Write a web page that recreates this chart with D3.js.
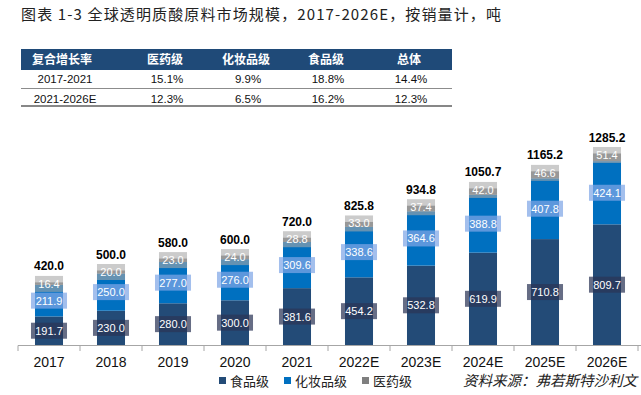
<!DOCTYPE html>
<html><head><meta charset="utf-8">
<script src="https://cdn.jsdelivr.net/npm/d3@7"></script>
<style>
html,body{margin:0;padding:0;background:#fff;}
svg{display:block;}
</style></head>
<body><svg id="c" width="641" height="395"></svg>
<script>
const title = "图表 1-3 全球透明质酸原料市场规模，2017-2026E，按销量计，吨";
const years = ["2017","2018","2019","2020","2021","2022E","2023E","2024E","2025E","2026E"];
const food = [191.7,230.0,280.0,300.0,381.6,454.2,532.8,619.9,710.8,809.7];
const cosmetic = [211.9,250.0,277.0,276.0,309.6,338.6,364.6,388.8,407.8,424.1];
const pharma = [16.4,20.0,23.0,24.0,28.8,33.0,37.4,42.0,46.6,51.4];
const totals = [420.0,500.0,580.0,600.0,720.0,825.8,934.8,1050.7,1165.2,1285.2];
const seriesNames = ["食品级","化妆品级","医药级"];
const tableHeader = ["复合增长率","医药级","化妆品级","食品级","总体"];
const tableRow1 = ["2017-2021","15.1%","9.9%","18.8%","14.4%"];
const tableRow2 = ["2021-2026E","12.3%","6.5%","16.2%","12.3%"];
const source = "资料来源：弗若斯特沙利文";

const colors = {food:"#234B77", cosmetic:"#0070C0", pharma:"#7F7F7F"};
const svg = d3.select("#c");
const LAT = "'Liberation Sans', Arial, sans-serif";
const CJK = "'Noto Sans CJK SC', sans-serif";

// title
svg.append("text").attr("x",21).attr("y",20).attr("font-family",CJK).attr("font-size",15)
  .attr("fill","#222").attr("textLength",480).attr("lengthAdjust","spacing").text(title);

// table
const colX = [62,165,246,326,409];
svg.append("rect").attr("x",21).attr("y",49).attr("width",431).attr("height",21).attr("fill","#1F4A78");
svg.selectAll("text.th").data(tableHeader).join("text").attr("class","th")
  .attr("x",(d,i)=>colX[i]).attr("y",64).attr("text-anchor","middle")
  .attr("font-family",CJK).attr("font-weight","bold").attr("font-size",12).attr("fill","#fff").text(d=>d);
[[tableRow1,83],[tableRow2,102.5]].forEach(([row,yy])=>{
  svg.append("g").selectAll("text").data(row).join("text")
    .attr("x",(d,i)=>colX[i]+ (i===0?3:2)).attr("y",yy).attr("text-anchor","middle")
    .attr("font-family",LAT).attr("font-size",11.5).attr("fill","#111").text(d=>d);
});
svg.append("line").attr("x1",21).attr("x2",452).attr("y1",88.5).attr("y2",88.5).attr("stroke","#8c8c8c").attr("stroke-width",1);
svg.append("line").attr("x1",21).attr("x2",452).attr("y1",106).attr("y2",106).attr("stroke","#111").attr("stroke-width",1.2);

// scales
const x = d3.scaleBand().domain(years).range([18,638]).paddingInner(0.548).paddingOuter(0.274);
const y = d3.scaleLinear().domain([0,1300]).range([345, 345-1300*0.149]);
const bw = x.bandwidth(), step = x.step();

const data = years.map((yr,i)=>({yr, food:food[i], cosmetic:cosmetic[i], pharma:pharma[i], total:totals[i]}));
const stack = d3.stack().keys(["food","cosmetic","pharma"])(data);

const g = svg.append("g");
stack.forEach(layer=>{
  g.append("g").selectAll("rect").data(layer).join("rect")
    .attr("x",d=>x(d.data.yr)).attr("width",bw)
    .attr("y",d=>y(d[1])).attr("height",d=>y(d[0])-y(d[1]))
    .attr("fill",colors[layer.key]);
});

// label boxes + labels
const boxH = 16;
function labelLayer(key, cyFn, boxW, fill, op){
  const lg = svg.append("g");
  lg.selectAll("rect").data(data).join("rect")
    .attr("x",d=>x(d.yr)+bw/2-boxW/2).attr("width",boxW)
    .attr("y",d=>cyFn(d)-boxH/2).attr("height",boxH)
    .attr("fill",fill).attr("fill-opacity",op);
  lg.selectAll("text").data(data).join("text")
    .attr("x",d=>x(d.yr)+bw/2).attr("y",d=>cyFn(d)+4)
    .attr("text-anchor","middle").attr("font-family",LAT).attr("font-size",11)
    .attr("fill","#fff").text(d=>d[key].toFixed(1));
}
labelLayer("food", d=>(y(0)+y(d.food))/2, bw+8, "#2B3556", 0.72);
labelLayer("cosmetic", d=>(y(d.food)+y(d.food+d.cosmetic))/2, bw+8, "#7FA6E6", 0.72);
labelLayer("pharma", d=>y(d.food+d.cosmetic+d.pharma)+1.5, bw, "#A8A8A8", 0.6);

// totals
svg.append("g").selectAll("text").data(data).join("text")
  .attr("x",d=>x(d.yr)+bw/2).attr("y",d=>y(d.total)-12)
  .attr("text-anchor","middle").attr("font-family",LAT).attr("font-weight","bold")
  .attr("font-size",12).attr("fill","#000").text(d=>d.total.toFixed(1));

// axis
const ax = svg.append("g");
ax.append("line").attr("x1",18).attr("x2",641).attr("y1",345.5).attr("y2",345.5).attr("stroke","#A6A6A6");
const bounds = years.map(yr=>x(yr)+bw/2-step/2).concat([x(years[years.length-1])+bw/2+step/2]);
ax.selectAll("line.tk").data(bounds).join("line").attr("class","tk")
  .attr("x1",d=>d).attr("x2",d=>d).attr("y1",345.5).attr("y2",351).attr("stroke","#A6A6A6");
ax.selectAll("text").data(years).join("text")
  .attr("x",d=>x(d)+bw/2).attr("y",367).attr("text-anchor","middle")
  .attr("font-family",LAT).attr("font-size",14).attr("fill","#111").text(d=>d);

// legend
const legX = [219,284,362];
const legColors = [colors.food, colors.cosmetic, colors.pharma];
const lg = svg.append("g");
seriesNames.forEach((n,i)=>{
  lg.append("rect").attr("x",legX[i]).attr("y",377).attr("width",7).attr("height",7).attr("fill",legColors[i]);
  lg.append("text").attr("x",legX[i]+11).attr("y",386).attr("font-family",CJK).attr("font-size",13)
    .attr("fill","#222").text(n);
});
svg.append("text").attr("x",463).attr("y",386).attr("font-family",CJK).attr("font-size",14.5)
  .attr("font-style","italic").attr("fill","#222").text(source);
</script></body></html>
